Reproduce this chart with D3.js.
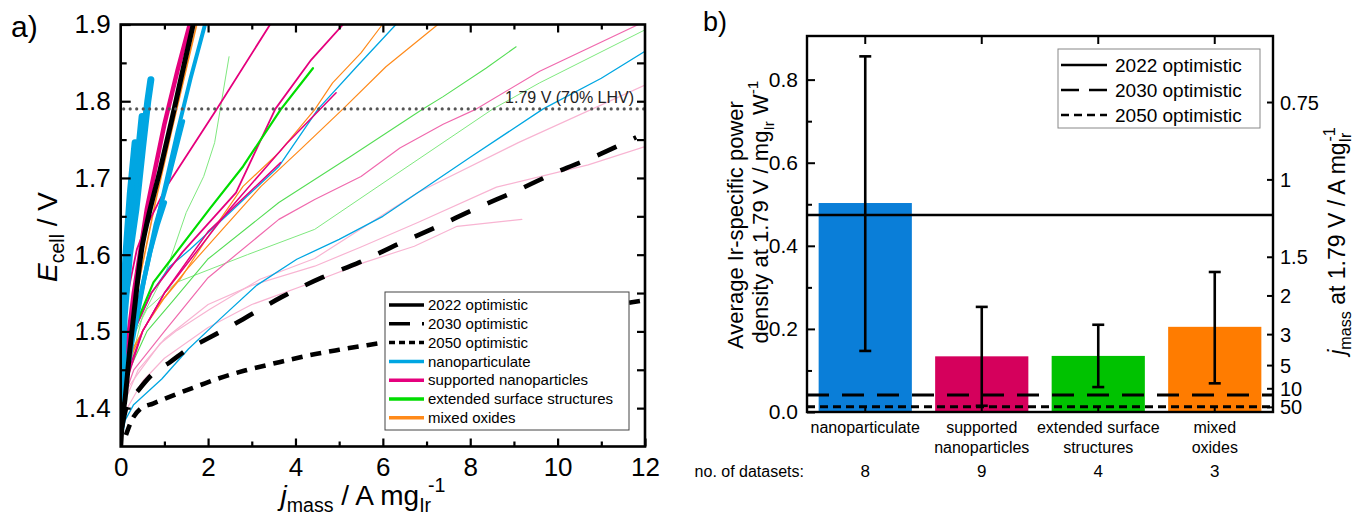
<!DOCTYPE html>
<html>
<head>
<meta charset="utf-8">
<script src="https://cdn.jsdelivr.net/npm/d3@7"></script>
<style>
  body { margin: 0; background: #fff; }
  svg { font-family: "Liberation Sans", Arial, sans-serif; }
</style>
</head>
<body>
<div id="chart"></div>
<script>
'use strict';

// ---- panel a: polarization curves, [j_mass (A/mg_Ir), E_cell (V)] ----
const nanoparticulate = [
  [[0.01,1.42],[0.08,1.52],[0.2,1.6],[0.35,1.66],[0.5,1.74],[0.62,1.8],[0.69,1.828]],
  [[0.005,1.42],[0.06,1.52],[0.15,1.6],[0.3,1.68],[0.42,1.74],[0.49,1.78]],
  [[0.005,1.44],[0.05,1.52],[0.12,1.6],[0.22,1.68],[0.33,1.746]],
  [[0.02,1.40],[0.15,1.46],[0.35,1.52],[0.67,1.603],[0.85,1.64],[1.01,1.668]],
  [[0.02,1.40],[0.2,1.47],[0.5,1.56],[0.8,1.64],[1.1,1.70],[1.43,1.774]],
  [[0.02,1.40],[0.25,1.48],[0.55,1.57],[0.9,1.66],[1.3,1.76],[1.6,1.83],[1.93,1.9]],
  [[0.06,1.37],[0.1,1.384],[0.29,1.404],[0.94,1.438],[1.55,1.477],[2.27,1.516],[3.11,1.56],[4.03,1.594],[5.0,1.62],[6.0,1.65],[8.0,1.727],[9.67,1.79],[11.0,1.83],[12.0,1.865]],
  [[0.05,1.42],[0.3,1.5],[0.7,1.55],[1.13,1.585],[1.59,1.607],[2.5,1.655],[3.62,1.715],[4.52,1.79],[5.4,1.845],[6.3,1.9]]
];
const supportedNP = [
  [[0.0,1.40],[0.1,1.46],[0.3,1.55],[0.6,1.66],[1.0,1.77],[1.3,1.84],[1.58,1.9]],
  [[0.06,1.508],[0.2,1.56],[0.37,1.607],[0.52,1.629],[1.05,1.689],[2.2,1.79],[3.42,1.9]],
  [[0.05,1.43],[0.3,1.5],[0.7,1.55],[1.41,1.603],[2.64,1.681],[3.54,1.79],[4.36,1.854],[5.09,1.9]],
  [[0.05,1.42],[0.5,1.5],[1.0,1.55],[2.5,1.66],[3.8,1.745],[4.93,1.811]],
  [[0.05,1.43],[0.5,1.5],[1.0,1.55],[2.0,1.63],[3.66,1.72]],
  [[0.05,1.41],[0.3,1.45],[1.0,1.5],[2.0,1.57],[3.62,1.646],[4.44,1.672],[5.5,1.702],[6.39,1.739],[7.38,1.77],[8.11,1.789],[9.59,1.839],[11.85,1.9]],
  [[0.03,1.41],[0.1,1.421],[0.37,1.443],[0.9,1.484],[1.28,1.501],[2.04,1.529],[3.19,1.568],[4.44,1.595],[6.8,1.681],[9.1,1.746],[12,1.821]],
  [[0.03,1.40],[0.4,1.45],[1.0,1.49],[2.0,1.535],[3.0,1.56],[4.44,1.585],[5.5,1.61],[6.8,1.642],[8.6,1.688],[10.7,1.717],[12,1.741]],
  [[0.05,1.39],[0.5,1.435],[1.0,1.465],[2.0,1.505],[3.0,1.535],[4.44,1.565],[5.58,1.59],[6.72,1.611],[7.7,1.637],[9.18,1.646]]
];
const extendedSurface = [
  [[0.03,1.42],[0.14,1.464],[0.37,1.512],[0.75,1.564],[1.3,1.605],[2.04,1.66],[2.8,1.715],[3.66,1.789],[4.4,1.843]],
  [[0.03,1.41],[0.2,1.45],[0.6,1.5],[1.2,1.54],[1.99,1.594],[3.62,1.668],[5.26,1.728],[6.89,1.789],[7.38,1.806],[8.36,1.843],[9.05,1.871]],
  [[0.03,1.43],[0.14,1.477],[0.6,1.529],[1.28,1.564],[2.9,1.6],[4.44,1.633],[6.23,1.702],[8.52,1.79],[9.59,1.824],[12,1.893]],
  [[0.05,1.42],[0.5,1.52],[1.05,1.58],[1.5,1.655],[1.9,1.702],[2.15,1.746],[2.48,1.858]]
];
const mixedOxides = [
  [[0.03,1.42],[0.1,1.443],[0.21,1.464],[0.52,1.503],[0.98,1.542],[1.36,1.568],[1.9,1.615],[2.8,1.689],[3.62,1.733],[4.44,1.789],[4.85,1.824],[5.5,1.863],[5.99,1.9]],
  [[0.05,1.43],[0.3,1.48],[0.8,1.53],[1.5,1.58],[2.39,1.637],[3.21,1.689],[4.11,1.737],[5.09,1.79],[6.07,1.845],[7.26,1.9]],
  [[0.0,1.40],[0.15,1.47],[0.4,1.56],[0.8,1.67],[1.2,1.77],[1.74,1.9]]
];
const target2022 = [[0,1.35],[0.03,1.38],[0.1,1.412],[0.21,1.477],[0.3,1.522],[0.48,1.607],[0.62,1.646],[0.9,1.71],[1.17,1.776],[1.4,1.835],[1.7,1.91]];
const target2030 = [[0.03,1.375],[0.14,1.403],[0.4,1.423],[0.74,1.445],[1.13,1.46],[1.54,1.477],[1.97,1.49],[2.8,1.516],[3.69,1.545],[4.6,1.57],[5.46,1.59],[6.36,1.614],[7.26,1.637],[8.16,1.661],[9.05,1.683],[9.95,1.707],[10.85,1.728],[11.8,1.753]];
const target2050 = [[0.12,1.365],[0.25,1.384],[0.45,1.399],[0.74,1.406],[1.0,1.412],[1.4,1.421],[1.82,1.43],[2.2,1.438],[2.84,1.449],[3.49,1.458],[4.33,1.469],[5.0,1.476],[6.07,1.486],[8.0,1.505],[10.0,1.522],[11.7,1.538],[12.2,1.542]];
const efficiencyLimit = 1.79;

// ---- panel b: bars ----
const categories = ['nanoparticulate', 'supported nanoparticles', 'extended surface structures', 'mixed oxides'];
const categoryLines = [['nanoparticulate'], ['supported', 'nanoparticles'], ['extended surface', 'structures'], ['mixed', 'oxides']];
const powerMean = [0.503, 0.134, 0.135, 0.205];
const powerLow = [0.147, 0.015, 0.06, 0.069];
const powerHigh = [0.856, 0.253, 0.21, 0.337];
const datasetCounts = [8, 9, 4, 3];
const targetNames = ['2022 optimistic', '2030 optimistic', '2050 optimistic'];
const targetPower = [0.474, 0.041, 0.0128];
const jmassTicks = [0.75, 1, 1.5, 2, 3, 5, 10, 50];

// ---- styles ----
const catColor = ['#00a6e2', '#e5007d', '#00dd00', '#ff8a1a'];
const nanoWidth = [7, 7, 7, 4.5, 4, 4, 1.3, 1.3];
const supColor = ['#e5007d', '#e5007d', '#e5007d', '#e5007d', '#e5007d', '#f06aae', '#f8b4d2', '#f8b4d2', '#f8b4d2'];
const supWidth = [4.5, 1.8, 1.8, 1.5, 1.5, 1.2, 1.2, 1.2, 1.2];
const extColor = ['#00dd00', '#55dd55', '#7fe87f', '#7fe87f'];
const extWidth = [2.2, 1.1, 1, 1];
const mixWidth = [1.2, 1.2, 1.6];
const barColor = ['#0a7ed8', '#d5005c', '#00c200', '#ff7c00'];
const targetDash = [null, '21,19', '11,8'];
const targetDashB = [null, '22,13', '8,5'];

const svg = d3.select('#chart').append('svg')
    .attr('width', 1357)
    .attr('height', 519);

// rich text: parts = [{t, it, sub, sup, dx}]
function rich(sel, parts, fs) {
  let off = 0;
  parts.forEach(p => {
    const shift = p.sub ? 0.26 * fs : p.sup ? -0.45 * fs : 0;
    const ts = sel.append('tspan').text(p.t).attr('dy', shift - off);
    if (p.sub || p.sup) ts.attr('font-size', fs * 0.7);
    if (p.it) ts.attr('font-style', 'italic');
    if (p.dx) ts.attr('dx', p.dx);
    off = shift;
  });
}

// axis groups get d3's default font settings; replace them
function axisFont(g, fs) {
  g.attr('font-size', fs).attr('font-family', null);
  g.selectAll('.domain').remove();
  g.selectAll('.tick text').attr('fill', '#000');
}

// ================= panel a =================
const xA = d3.scaleLinear().domain([0, 12]).range([120.7, 645]);
const yA = d3.scaleLinear().domain([1.35, 1.9]).range([446.5, 24.5]);

svg.append('clipPath').attr('id', 'clipA')
  .append('rect').attr('x', 120.7).attr('y', 24.5).attr('width', 524.3).attr('height', 422);

const gA = svg.append('g').attr('clip-path', 'url(#clipA)');
const lineA = d3.line().x(d => xA(d[0])).y(d => yA(d[1]));

let curves = [];
supportedNP.forEach((d, i) => curves.push({d, c: supColor[i], w: supWidth[i]}));
extendedSurface.forEach((d, i) => curves.push({d, c: extColor[i], w: extWidth[i]}));
mixedOxides.forEach((d, i) => curves.push({d, c: catColor[3], w: mixWidth[i]}));
nanoparticulate.forEach((d, i) => curves.push({d, c: catColor[0], w: nanoWidth[i]}));
curves.sort((a, b) => a.w - b.w);

gA.selectAll('.curve')
    .data(curves)
    .enter().append('path')
    .attr('class', 'curve')
    .attr('d', c => lineA(c.d))
    .attr('fill', 'none')
    .attr('stroke', c => c.c)
    .attr('stroke-width', c => c.w)
    .attr('stroke-linecap', 'round')
    .attr('stroke-linejoin', 'round');

const smoothA = d3.line().x(d => xA(d[0])).y(d => yA(d[1])).curve(d3.curveMonotoneX);
[target2022, target2030, target2050].forEach((d, i) => {
  gA.append('path')
      .attr('d', smoothA(d))
      .attr('fill', 'none')
      .attr('stroke', '#000')
      .attr('stroke-width', i === 0 ? 5 : 4.6)
      .attr('stroke-dasharray', targetDash[i]);
});

// 1.79 V line
svg.append('line')
    .attr('x1', xA(0) + 3).attr('x2', xA(12))
    .attr('y1', yA(efficiencyLimit)).attr('y2', yA(efficiencyLimit))
    .attr('stroke', '#555')
    .attr('stroke-width', 3.2)
    .attr('stroke-linecap', 'round')
    .attr('stroke-dasharray', '0,6.5');
svg.append('text')
    .attr('x', 634).attr('y', yA(efficiencyLimit) - 6)
    .attr('text-anchor', 'end')
    .attr('font-size', 16)
    .attr('fill', '#222')
    .text('1.79 V (70% LHV)');

// axes a
const axA = svg.append('g');
axA.append('g')
    .attr('transform', 'translate(0,446.5)')
    .call(d3.axisBottom(xA).tickValues(d3.range(0, 13, 2)).tickSize(-8).tickPadding(11).tickFormat(d3.format('d')))
    .call(axisFont, 26);
axA.append('g')
    .attr('transform', 'translate(0,446.5)')
    .call(d3.axisBottom(xA).tickValues(d3.range(1, 12, 2)).tickSize(-5).tickFormat(''))
    .call(axisFont, 26);
axA.append('g')
    .attr('transform', 'translate(0,24.5)')
    .call(d3.axisTop(xA).tickValues(d3.range(2, 12, 2)).tickSize(-8).tickFormat(''))
    .call(axisFont, 26);
axA.append('g')
    .attr('transform', 'translate(0,24.5)')
    .call(d3.axisTop(xA).tickValues(d3.range(1, 12, 2)).tickSize(-5).tickFormat(''))
    .call(axisFont, 26);
axA.append('g')
    .attr('transform', 'translate(120.7,0)')
    .call(d3.axisLeft(yA).tickValues([1.4, 1.5, 1.6, 1.7, 1.8, 1.9]).tickSize(-10).tickPadding(10).tickFormat(d3.format('.1f')))
    .call(axisFont, 26);
axA.append('g')
    .attr('transform', 'translate(120.7,0)')
    .call(d3.axisLeft(yA).tickValues([1.45, 1.55, 1.65, 1.75, 1.85]).tickSize(-6).tickFormat(''))
    .call(axisFont, 26);
axA.append('g')
    .attr('transform', 'translate(645,0)')
    .call(d3.axisRight(yA).tickValues(d3.range(1.4, 1.86, 0.05)).tickSize(-8).tickFormat(''))
    .call(axisFont, 26);
axA.selectAll('.tick line').attr('stroke-width', 2.2);

svg.append('rect')
    .attr('x', 120.7).attr('y', 24.5).attr('width', 524.3).attr('height', 422)
    .attr('fill', 'none').attr('stroke', '#000').attr('stroke-width', 2.6);

// titles a
rich(svg.append('text').attr('x', 363).attr('y', 505).attr('text-anchor', 'middle').attr('font-size', 28),
  [{t: 'j', it: true}, {t: 'mass', sub: true}, {t: ' / A mg'}, {t: 'Ir', sub: true}, {t: '-1', sup: true, dx: -3}], 28);
rich(svg.append('text').attr('transform', 'translate(57,237) rotate(-90)').attr('text-anchor', 'middle').attr('font-size', 28),
  [{t: 'E', it: true}, {t: 'cell', sub: true}, {t: ' / V'}], 28);
svg.append('text').attr('x', 11).attr('y', 37).attr('font-size', 30).text('a)');

// legend a
const legA = svg.append('g').attr('font-size', 15);
legA.append('rect')
    .attr('x', 385).attr('y', 292).attr('width', 244).attr('height', 138)
    .attr('fill', '#fff').attr('stroke', '#444').attr('stroke-width', 1);
const legAItems = targetNames.map((n, i) => ({n, c: '#000', w: 3.5, dash: [null, '21,12', '6,4'][i]}))
  .concat(categories.map((n, i) => ({n, c: catColor[i], w: 3.5, dash: null})));
legAItems.forEach((it, i) => {
  const y = 305 + i * 18.8;
  legA.append('line')
      .attr('x1', 389).attr('x2', 424).attr('y1', y).attr('y2', y)
      .attr('stroke', it.c).attr('stroke-width', it.w).attr('stroke-dasharray', it.dash);
  legA.append('text').attr('x', 428).attr('y', y).attr('dy', '0.35em').text(it.n);
});

// ================= panel b =================
const xB = d3.scaleBand().domain(categories).range([807, 1273]).paddingInner(0.2).paddingOuter(0.1);
const yB = d3.scaleLinear().domain([0, 0.905]).range([412, 36]);
const cx = i => xB(categories[i]) + xB.bandwidth() / 2;

svg.selectAll('.bar')
    .data(powerMean)
    .enter().append('rect')
    .attr('class', 'bar')
    .attr('x', (d, i) => xB(categories[i]))
    .attr('y', d => yB(d))
    .attr('width', xB.bandwidth())
    .attr('height', d => yB(0) - yB(d))
    .attr('fill', (d, i) => barColor[i]);

targetPower.forEach((v, i) => {
  svg.append('line')
      .attr('x1', 807).attr('x2', 1273)
      .attr('y1', yB(v)).attr('y2', yB(v))
      .attr('stroke', '#000')
      .attr('stroke-width', i === 0 ? 2.6 : 3)
      .attr('stroke-dasharray', targetDashB[i]);
});

const err = svg.append('g').attr('stroke', '#000').attr('stroke-width', 2.6);
powerMean.forEach((d, i) => {
  const x = cx(i);
  err.append('line').attr('x1', x).attr('x2', x).attr('y1', yB(powerLow[i])).attr('y2', yB(powerHigh[i]));
  [powerLow[i], powerHigh[i]].forEach(v => {
    err.append('line').attr('x1', x - 6).attr('x2', x + 6).attr('y1', yB(v)).attr('y2', yB(v));
  });
});

const axB = svg.append('g');
axB.append('g')
    .attr('transform', 'translate(807,0)')
    .call(d3.axisLeft(yB).tickValues([0, 0.2, 0.4, 0.6, 0.8]).tickSize(-8).tickPadding(9).tickFormat(d3.format('.1f')))
    .call(axisFont, 21);
axB.append('g')
    .attr('transform', 'translate(807,0)')
    .call(d3.axisLeft(yB).tickValues([0.1, 0.3, 0.5, 0.7]).tickSize(-5).tickFormat(''))
    .call(axisFont, 21);
axB.append('g')
    .attr('transform', 'translate(0,36)')
    .call(d3.axisTop(xB).tickSize(-8).tickFormat(''))
    .call(axisFont, 21);
axB.append('g')
    .attr('transform', 'translate(0,412)')
    .call(d3.axisBottom(xB).tickSize(-6).tickFormat(''))
    .call(axisFont, 21);
axB.selectAll('.tick line').attr('stroke-width', 2);

// right axis: j_mass at 1.79 V, placed through the power scale
const rAx = svg.append('g').attr('font-size', 20);
jmassTicks.forEach(j => {
  const y = yB(1 / (efficiencyLimit * j));
  rAx.append('line').attr('x1', 1273).attr('x2', 1267).attr('y1', y).attr('y2', y)
      .attr('stroke', '#000').attr('stroke-width', 2);
  rAx.append('text').attr('x', 1280).attr('y', y).attr('dy', '0.35em').text(j);
});

svg.append('rect')
    .attr('x', 807).attr('y', 36).attr('width', 466).attr('height', 376)
    .attr('fill', 'none').attr('stroke', '#000').attr('stroke-width', 2.4);

// category labels and counts
categoryLines.forEach((lines, i) => {
  lines.forEach((l, k) => {
    svg.append('text').attr('x', cx(i)).attr('y', 433 + k * 19.5)
        .attr('text-anchor', 'middle').attr('font-size', 16).text(l);
  });
  svg.append('text').attr('x', cx(i)).attr('y', 477)
      .attr('text-anchor', 'middle').attr('font-size', 17).text(datasetCounts[i]);
});
svg.append('text').attr('x', 804).attr('y', 477).attr('text-anchor', 'end')
    .attr('font-size', 16).text('no. of datasets:');

// titles b
rich(svg.append('text').attr('transform', 'translate(743,225) rotate(-90)').attr('text-anchor', 'middle').attr('font-size', 22),
  [{t: 'Average Ir-specific power'}], 22);
rich(svg.append('text').attr('transform', 'translate(768,212) rotate(-90)').attr('text-anchor', 'middle').attr('font-size', 22),
  [{t: 'density at 1.79 V / mg'}, {t: 'Ir', sub: true}, {t: ' W'}, {t: '-1', sup: true}], 22);
rich(svg.append('text').attr('transform', 'translate(1345,241) rotate(-90)').attr('text-anchor', 'middle').attr('font-size', 23),
  [{t: 'j', it: true}, {t: 'mass', sub: true}, {t: ' at 1.79 V / A mg'}, {t: 'Ir', sub: true}, {t: '-1', sup: true, dx: -9}], 23);
svg.append('text').attr('x', 703).attr('y', 31).attr('font-size', 27).text('b)');

// legend b
const legB = svg.append('g').attr('font-size', 19);
legB.append('rect')
    .attr('x', 1058).attr('y', 49).attr('width', 202).attr('height', 79)
    .attr('fill', '#fff').attr('stroke', '#888').attr('stroke-width', 1);
targetNames.forEach((n, i) => {
  const y = 65 + i * 25;
  legB.append('line')
      .attr('x1', 1061).attr('x2', 1107).attr('y1', y).attr('y2', y)
      .attr('stroke', '#000').attr('stroke-width', 2.6)
      .attr('stroke-dasharray', ['', '18,10', '8,5'][i] || null);
  legB.append('text').attr('x', 1115).attr('y', y).attr('dy', '0.35em').text(n);
});
</script>
</body>
</html>
